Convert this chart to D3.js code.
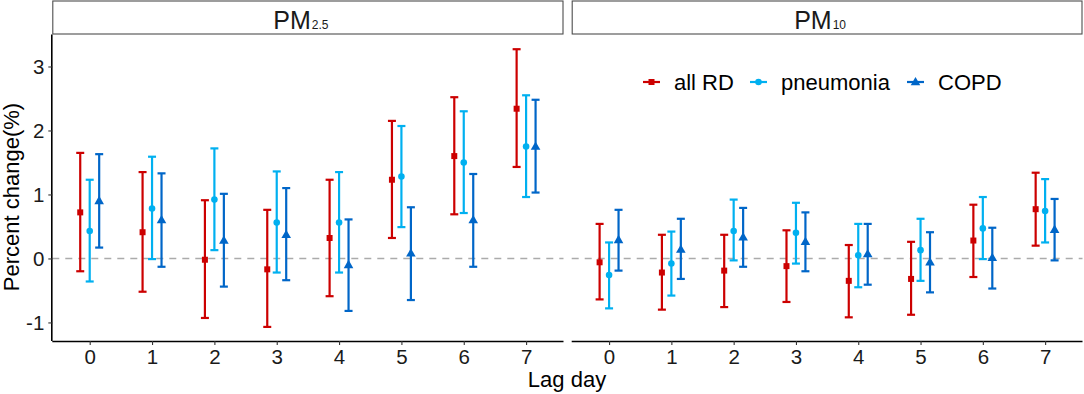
<!DOCTYPE html>
<html><head><meta charset="utf-8">
<script src="https://cdn.jsdelivr.net/npm/d3@7"></script>
<style>body{margin:0;background:#fff;} text{font-family:"Liberation Sans",Arial,sans-serif;}</style>
</head><body>
<svg id="c" width="1084" height="394"></svg>
<script>
const lags = [0,1,2,3,4,5,6,7];
const outcomes = ["all RD","pneumonia","COPD"];
const colors = ["#CC0000","#00B0F0","#0066C8"];
const yTicks = [-1,0,1,2,3];
const panels = ["PM2.5","PM10"];

// PM2.5: [estimate, lower, upper] per lag
const pm25_allRD = [[0.72,-0.20,1.65],[0.41,-0.52,1.35],[-0.02,-0.93,0.91],[-0.17,-1.07,0.76],[0.32,-0.59,1.23],[1.23,0.32,2.15],[1.60,0.69,2.52],[2.34,1.43,3.27]];
const pm25_pneu  = [[0.43,-0.36,1.23],[0.78,-0.01,1.59],[0.92,0.13,1.72],[0.56,-0.22,1.36],[0.56,-0.22,1.35],[1.28,0.49,2.07],[1.50,0.71,2.30],[1.75,0.96,2.55]];
const pm25_copd  = [[0.90,0.17,1.63],[0.60,-0.13,1.33],[0.28,-0.44,1.01],[0.37,-0.34,1.10],[-0.10,-0.82,0.61],[0.08,-0.65,0.80],[0.60,-0.13,1.32],[1.75,1.03,2.48]];
// PM10
const pm10_allRD = [[-0.06,-0.64,0.54],[-0.22,-0.80,0.37],[-0.19,-0.76,0.37],[-0.12,-0.68,0.44],[-0.35,-0.92,0.21],[-0.32,-0.88,0.26],[0.28,-0.29,0.84],[0.77,0.20,1.34]];
const pm10_pneu  = [[-0.26,-0.78,0.25],[-0.08,-0.58,0.42],[0.43,-0.03,0.92],[0.40,-0.08,0.87],[0.05,-0.45,0.54],[0.13,-0.35,0.62],[0.47,-0.01,0.96],[0.74,0.25,1.24]];
const pm10_copd  = [[0.29,-0.19,0.76],[0.14,-0.32,0.62],[0.33,-0.13,0.79],[0.26,-0.20,0.72],[0.07,-0.41,0.54],[-0.06,-0.53,0.41],[0.01,-0.47,0.48],[0.45,-0.03,0.93]];

const seriesByPanel = [[pm25_allRD,pm25_pneu,pm25_copd],[pm10_allRD,pm10_pneu,pm10_copd]];

const svg = d3.select("#c");
const pTop = 34.5, pBottom = 341;
const panelX = [[52.3,563.5],[571.7,1082.5]];
const y = d3.scaleLinear().domain([-1.29,3.5]).range([pBottom, pTop]);

const shapes = [d3.symbolSquare, d3.symbolCircle, d3.symbolTriangle];
const sizes = [36, 34, 40];

function marker(g, i, cx, cy){
  g.append("path").attr("d", d3.symbol().type(shapes[i]).size(sizes[i])())
    .attr("transform", `translate(${cx},${cy + (i===2?0.5:0)})`).attr("fill", colors[i]);
}

panels.forEach((p, pi) => {
  const [x0,x1] = panelX[pi];
  const x = d3.scalePoint().domain(lags).range([x0,x1]).padding(0.6);
  const off = x.step()*0.152;
  const g = svg.append("g");
  // strip
  g.append("rect").attr("x",x0+0.5).attr("y",1).attr("width",x1-x0-1).attr("height",pTop-1.5)
    .attr("fill","#fff").attr("stroke","#4d4d4d").attr("stroke-width",1.1);
  const st = g.append("text").attr("x",(x0+x1)/2 - 7).attr("y",28.5).attr("text-anchor","middle")
    .attr("font-size",25).attr("fill","#1a1a1a");
  const base = p.slice(0,2), sub = p.slice(2);
  st.append("tspan").text(base);
  st.append("tspan").attr("font-size",12).attr("dx",1).text(sub);

  // zero line
  g.append("line").attr("x1",x0).attr("x2",x1).attr("y1",y(0)).attr("y2",y(0))
    .attr("stroke","#ababab").attr("stroke-width",1.6).attr("stroke-dasharray","7,6");

  // x axis
  const xa = g.append("g").attr("transform",`translate(0,${pBottom})`)
    .call(d3.axisBottom(x).tickSize(4).tickPadding(4).tickSizeOuter(0));
  xa.select(".domain").attr("stroke","#000").attr("stroke-width",1.6).attr("d",`M${x0},0.5H${x1}`);
  xa.selectAll(".tick line").attr("stroke","#333").attr("stroke-width",1.1);
  xa.selectAll(".tick text").attr("font-size",20.5).attr("fill","#1a1a1a").attr("font-family","Liberation Sans, Arial, sans-serif");

  if (pi===0){
    const ya = g.append("g").attr("transform",`translate(${x0},0)`)
      .call(d3.axisLeft(y).tickValues(yTicks).tickFormat(d => String(d)).tickSize(4).tickPadding(4).tickSizeOuter(0));
    ya.select(".domain").attr("stroke","#000").attr("stroke-width",1.6).attr("d",`M-0.5,${pTop}V${pBottom}`);
    ya.selectAll(".tick line").attr("stroke","#333").attr("stroke-width",1.1);
    ya.selectAll(".tick text").attr("font-size",20.5).attr("fill","#1a1a1a").attr("font-family","Liberation Sans, Arial, sans-serif");
  }

  seriesByPanel[pi].forEach((ser, si) => {
    ser.forEach((d, li) => {
      const cx = x(lags[li]) + (si-1)*off;
      const c = colors[si];
      g.append("line").attr("x1",cx).attr("x2",cx).attr("y1",y(d[1])).attr("y2",y(d[2]))
        .attr("stroke",c).attr("stroke-width",2.2);
      [d[1],d[2]].forEach(v => g.append("line").attr("x1",cx-4).attr("x2",cx+4).attr("y1",y(v)).attr("y2",y(v))
        .attr("stroke",c).attr("stroke-width",2.2));
      marker(g, si, cx, y(d[0]));
    });
  });
});

// axis titles
svg.append("text").attr("x",567).attr("y",387).attr("text-anchor","middle").attr("font-size",22).attr("fill","#000").text("Lag day");
svg.append("text").attr("transform","translate(19,197) rotate(-90)").attr("text-anchor","middle").attr("font-size",22).attr("fill","#000").text("Percent change(%)");

// legend
const legX = [643, 750, 907];
const ly = 82;
outcomes.forEach((o,i) => {
  const lg = svg.append("g");
  lg.append("line").attr("x1",legX[i]).attr("x2",legX[i]+17).attr("y1",ly).attr("y2",ly).attr("stroke",colors[i]).attr("stroke-width",2.2);
  marker(lg, i, legX[i]+8.5, ly);
  lg.append("text").attr("x",legX[i]+31).attr("y",ly+8).attr("font-size",22).attr("fill","#000").text(o);
});
</script>
</body></html>
